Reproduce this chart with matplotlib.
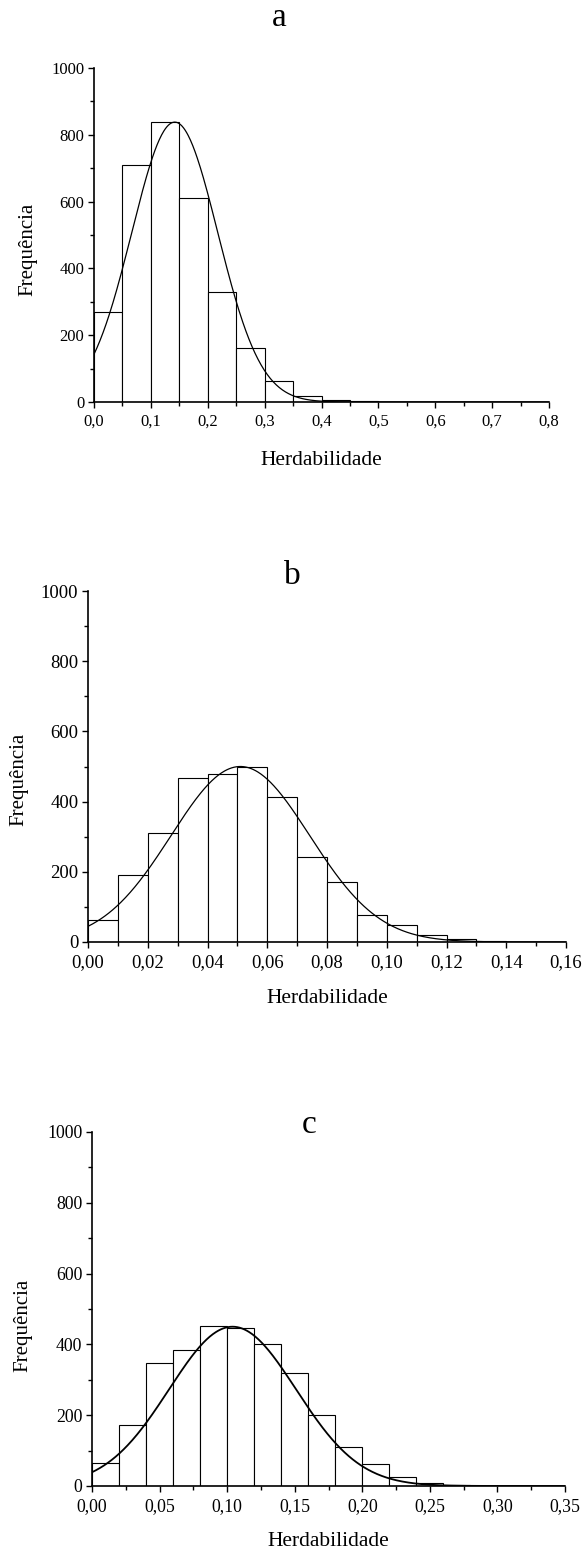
import numpy as np
import matplotlib
matplotlib.use("Agg")
import matplotlib.pyplot as plt
from matplotlib.ticker import MultipleLocator, FixedLocator, FixedFormatter

plt.rcParams['font.family'] = ['Liberation Serif', 'DejaVu Serif']

# ---------------- data ----------------
titles = ["a", "b", "c"]
xlabel = "Herdabilidade"
ylabel = "Frequência"

# panel a
bins_a_start = [0.00, 0.05, 0.10, 0.15, 0.20, 0.25, 0.30, 0.35, 0.40, 0.45, 0.50, 0.55, 0.60, 0.65, 0.70, 0.75]
counts_a = [268, 710, 837, 610, 328, 163, 62, 19, 5, 2, 1, 0, 1, 0, 1, 0]
width_a = 0.05
fit_a = dict(mean=0.142, sd=0.0755, peak=838)
xticks_a = [0.0, 0.1, 0.2, 0.3, 0.4, 0.5, 0.6, 0.7, 0.8]
xticklabels_a = ["0,0", "0,1", "0,2", "0,3", "0,4", "0,5", "0,6", "0,7", "0,8"]

# panel b
bins_b_start = [0.00, 0.01, 0.02, 0.03, 0.04, 0.05, 0.06, 0.07, 0.08, 0.09, 0.10, 0.11, 0.12, 0.13, 0.14]
counts_b = [63, 190, 310, 468, 478, 500, 413, 243, 171, 78, 48, 20, 8, 3, 1]
width_b = 0.01
fit_b = dict(mean=0.051, sd=0.0232, peak=500)
xticks_b = [0.00, 0.02, 0.04, 0.06, 0.08, 0.10, 0.12, 0.14, 0.16]
xticklabels_b = ["0,00", "0,02", "0,04", "0,06", "0,08", "0,10", "0,12", "0,14", "0,16"]

# panel c
bins_c_start = [0.00, 0.02, 0.04, 0.06, 0.08, 0.10, 0.12, 0.14, 0.16, 0.18, 0.20, 0.22, 0.24, 0.26, 0.28, 0.30]
counts_c = [65, 171, 348, 385, 451, 446, 400, 318, 201, 111, 63, 25, 8, 3, 1, 1]
width_c = 0.02
fit_c = dict(mean=0.104, sd=0.047, peak=450)
xticks_c = [0.00, 0.05, 0.10, 0.15, 0.20, 0.25, 0.30, 0.35]
xticklabels_c = ["0,00", "0,05", "0,10", "0,15", "0,20", "0,25", "0,30", "0,35"]

yticks = [0, 200, 400, 600, 800, 1000]
yticklabels = ["0", "200", "400", "600", "800", "1000"]

# ---------------- layout (pixels) ----------------
W, H = 582, 1549
fig = plt.figure(figsize=(W / 100, H / 100), dpi=100)

def px_axes(x0, y0, x1, y1):
    return fig.add_axes([x0 / W, 1 - y1 / H, (x1 - x0) / W, (y1 - y0) / H])

panels = [
    dict(box=(94, 68, 549, 402), starts=bins_a_start, counts=counts_a, width=width_a, fit=fit_a,
         xt=xticks_a, xtl=xticklabels_a, minor=0.05, curve_lw=0.9, tick_fs=12,
         title_xy=(279, 26), xl_y=465, yl_xy=(28, 249)),
    dict(box=(88, 591, 566, 942), starts=bins_b_start, counts=counts_b, width=width_b, fit=fit_b,
         xt=xticks_b, xtl=xticklabels_b, minor=0.01, curve_lw=0.9, tick_fs=13.5,
         title_xy=(292, 584), xl_y=1003, yl_xy=(19, 779)),
    dict(box=(92, 1132, 565, 1486), starts=bins_c_start, counts=counts_c, width=width_c, fit=fit_c,
         xt=xticks_c, xtl=xticklabels_c, minor=0.025, curve_lw=1.3, tick_fs=12.8,
         title_xy=(309, 1133), xl_y=1546, yl_xy=(23, 1325)),
]

for p, title in zip(panels, titles):
    x0, y0, x1, y1 = p["box"]
    ax = px_axes(x0, y0, x1, y1)
    ax.bar(p["starts"], p["counts"], width=p["width"], align="edge",
           facecolor="white", edgecolor="black", linewidth=0.8, zorder=2)
    f = p["fit"]
    xs = np.linspace(p["xt"][0], p["xt"][-1], 600)
    ys = f["peak"] * np.exp(-0.5 * ((xs - f["mean"]) / f["sd"]) ** 2)
    ax.plot(xs, ys, color="black", linewidth=p["curve_lw"], zorder=3)

    ax.set_xlim(p["xt"][0], p["xt"][-1])
    ax.set_ylim(0, 1000)
    for s in ["top", "right"]:
        ax.spines[s].set_visible(False)
    for s in ["left", "bottom"]:
        ax.spines[s].set_linewidth(1.2)
        ax.spines[s].set_zorder(4)
    ax.xaxis.set_major_locator(FixedLocator(p["xt"]))
    ax.xaxis.set_major_formatter(FixedFormatter(p["xtl"]))
    ax.xaxis.set_minor_locator(MultipleLocator(p["minor"]))
    ax.yaxis.set_major_locator(FixedLocator(yticks))
    ax.yaxis.set_major_formatter(FixedFormatter(yticklabels))
    ax.yaxis.set_minor_locator(MultipleLocator(100))
    ax.tick_params(which="major", direction="out", length=4.5, width=1.0,
                   labelsize=p["tick_fs"], pad=2.5)
    ax.tick_params(which="minor", direction="out", length=3, width=1.0)
    ax.tick_params(axis="x", which="major", pad=4)

    tx, ty = p["title_xy"]
    fig.text(tx / W, 1 - ty / H, title, ha="center", va="baseline", fontsize=24)
    fig.text(((x0 + x1) / 2) / W, 1 - p["xl_y"] / H, xlabel, ha="center", va="baseline", fontsize=15.5)
    lx, ly = p["yl_xy"]
    fig.text(lx / W, 1 - ly / H, ylabel, ha="center", va="center", rotation=90, fontsize=15)

fig.savefig("out.png", dpi=100, facecolor="white")
